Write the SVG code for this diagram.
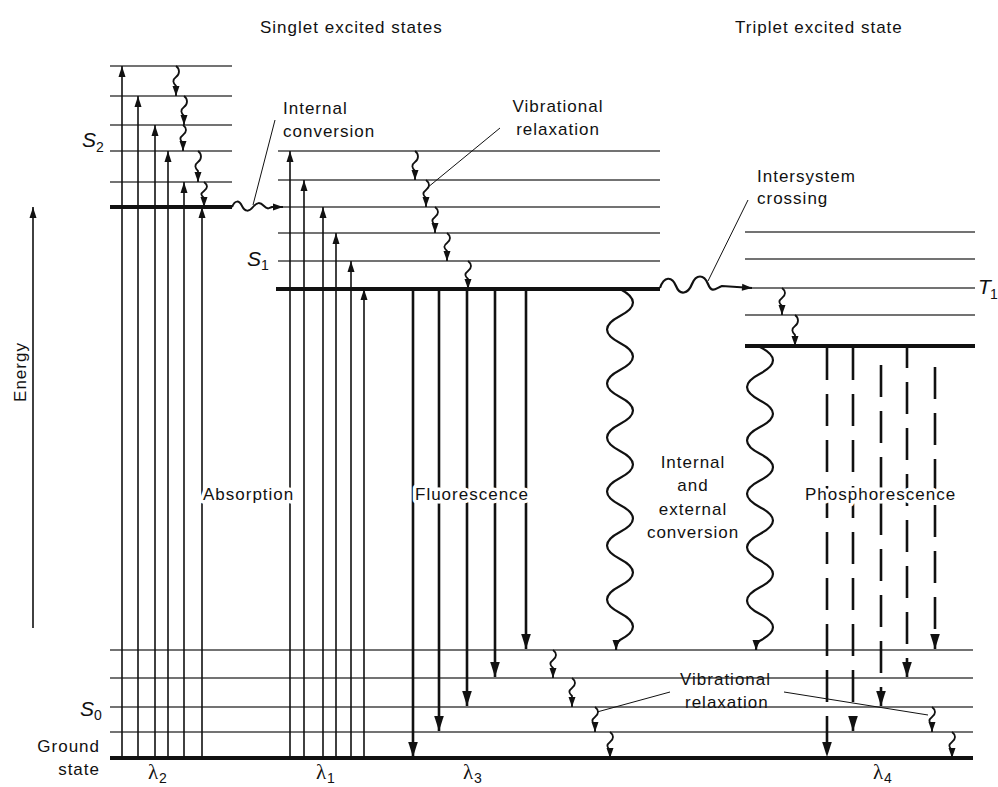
<svg xmlns="http://www.w3.org/2000/svg" width="998" height="787" viewBox="0 0 998 787">
<defs>
<marker id="ah" viewBox="-12 -5 13 10" refX="0" refY="0" markerWidth="13" markerHeight="10" markerUnits="userSpaceOnUse" orient="auto"><path d="M0,0 L-11,-3.5 L-11,3.5 Z" fill="#111"/></marker>
<marker id="ahb" viewBox="-16 -6 17 12" refX="0" refY="0" markerWidth="17" markerHeight="12" markerUnits="userSpaceOnUse" orient="auto"><path d="M0,0 L-15,-4.8 L-15,4.8 Z" fill="#111"/></marker>
<marker id="ahs" viewBox="-11 -5 12 10" refX="0" refY="0" markerWidth="12" markerHeight="10" markerUnits="userSpaceOnUse" orient="auto"><path d="M0,0 L-10,-3.5 L-10,3.5 Z" fill="#111"/></marker>
</defs>
<style>
.lv{stroke:#444;stroke-width:1.3;fill:none}
.th{stroke:#111;stroke-width:4;fill:none}
.ab{stroke:#111;stroke-width:1.6;fill:none;marker-end:url(#ah)}
.fl{stroke:#111;stroke-width:2.6;fill:none;marker-end:url(#ahb)}
.ph{stroke:#111;stroke-width:2.6;fill:none;stroke-dasharray:32 14;marker-end:url(#ahb)}
.wv{stroke:#111;stroke-width:2.2;fill:none;marker-end:url(#ahs)}
.sq{stroke:#111;stroke-width:1.8;fill:none;marker-end:url(#ahs)}
.ld{stroke:#111;stroke-width:1}
text{font-family:"Liberation Sans",Arial,sans-serif;font-size:17px;letter-spacing:1px;fill:#111}
.hl{stroke:#fff;stroke-width:7;paint-order:stroke;stroke-linejoin:round}
.st{font-size:21px;font-style:italic;letter-spacing:0}
.sb{font-size:14px;letter-spacing:0}
.lam{font-family:"Liberation Serif","DejaVu Serif",serif;font-size:21px;letter-spacing:0}
</style>
<rect width="998" height="787" fill="#fff"/>

<text x="260" y="33">Singlet excited states</text>
<text x="735" y="33">Triplet excited state</text>

<g id="energy-axis">
<line class="ab" x1="33" y1="628" x2="33" y2="207"/>
<text transform="translate(26,372) rotate(-90)" text-anchor="middle">Energy</text>
</g>

<g id="S2">
<line class="lv" x1="110" y1="66" x2="232" y2="66"/>
<line class="lv" x1="110" y1="96" x2="232" y2="96"/>
<line class="lv" x1="110" y1="125" x2="232" y2="125"/>
<line class="lv" x1="110" y1="151" x2="232" y2="151"/>
<line class="lv" x1="110" y1="182" x2="232" y2="182"/>
<line class="th" x1="110" y1="207" x2="232" y2="207"/>
<text class="st" x="82" y="147">S</text><text class="sb" x="96" y="152">2</text>
</g>

<g id="S1">
<line class="lv" x1="278" y1="151" x2="660" y2="151"/>
<line class="lv" x1="278" y1="180" x2="660" y2="180"/>
<line class="lv" x1="278" y1="207" x2="660" y2="207"/>
<line class="lv" x1="278" y1="233" x2="660" y2="233"/>
<line class="lv" x1="278" y1="261" x2="660" y2="261"/>
<line class="th" x1="276" y1="289" x2="660" y2="289"/>
<text class="st" x="247" y="266">S</text><text class="sb" x="261" y="270">1</text>
</g>

<g id="T1">
<line class="lv" x1="745" y1="232" x2="975" y2="232"/>
<line class="lv" x1="745" y1="259" x2="975" y2="259"/>
<line class="lv" x1="745" y1="288" x2="975" y2="288"/>
<line class="lv" x1="745" y1="315" x2="975" y2="315"/>
<line class="th" x1="745" y1="346" x2="975" y2="346"/>
<text class="st" x="978" y="294">T</text><text class="sb" x="990" y="299">1</text>
</g>

<g id="S0">
<line class="lv" x1="110" y1="650" x2="973" y2="650"/>
<line class="lv" x1="110" y1="678" x2="973" y2="678"/>
<line class="lv" x1="110" y1="707" x2="973" y2="707"/>
<line class="lv" x1="110" y1="732" x2="973" y2="732"/>
<line class="th" x1="110" y1="758" x2="973" y2="758"/>
<text class="st" x="80" y="716">S</text><text class="sb" x="94" y="720">0</text>
<text x="100" y="752" text-anchor="end">Ground</text>
<text x="100" y="775" text-anchor="end">state</text>
</g>

<g id="connectors">
<line class="ab" x1="122" y1="758" x2="122" y2="66"/>
<line class="ab" x1="138" y1="758" x2="138" y2="96"/>
<line class="ab" x1="155" y1="758" x2="155" y2="125"/>
<line class="ab" x1="168" y1="758" x2="168" y2="151"/>
<line class="ab" x1="184" y1="758" x2="184" y2="182"/>
<line class="ab" x1="202" y1="758" x2="202" y2="207"/>
<line class="ab" x1="290" y1="758" x2="290" y2="151"/>
<line class="ab" x1="304" y1="758" x2="304" y2="180"/>
<line class="ab" x1="323" y1="758" x2="323" y2="207"/>
<line class="ab" x1="336" y1="758" x2="336" y2="233"/>
<line class="ab" x1="351" y1="758" x2="351" y2="261"/>
<line class="ab" x1="364" y1="758" x2="364" y2="289"/>
<line class="fl" x1="413" y1="289" x2="413" y2="757"/>
<line class="fl" x1="439" y1="289" x2="439" y2="731"/>
<line class="fl" x1="467" y1="289" x2="467" y2="706"/>
<line class="fl" x1="495" y1="289" x2="495" y2="677"/>
<line class="fl" x1="526" y1="289" x2="526" y2="649"/>
<line class="ph" x1="827" y1="348" x2="827" y2="757"/>
<line class="ph" x1="853" y1="348" x2="853" y2="731"/>
<line class="ph" x1="881" y1="365" x2="881" y2="706"/>
<line class="ph" x1="907" y1="348" x2="907" y2="677" stroke-dashoffset="12"/>
<line class="ph" x1="935" y1="367" x2="935" y2="649"/>
<path class="sq" d="M176,66 c4,3 4,8 0,11 s-3,6 0,9 L176,96"/>
<path class="sq" d="M184,96 c4,3 4,8 0,11 s-3,6 0,9 L184,125"/>
<path class="sq" d="M183,125 c4,3 4,7 0,10 s-3,5 0,8 L183,151"/>
<path class="sq" d="M198,151 c4,3 4,8 0,11 s-3,6 0,9 L198,182"/>
<path class="sq" d="M204,182 c4,3 4,6 0,9 s-3,4 0,7 L204,207"/>
<path class="sq" d="M415,151 c4,3 4,8 0,11 s-3,6 0,9 L415,180"/>
<path class="sq" d="M426,180 c4,3 4,7 0,10 s-3,5 0,8 L426,207"/>
<path class="sq" d="M435,207 c4,3 4,7 0,10 s-3,5 0,8 L435,233"/>
<path class="sq" d="M447,233 c4,3 4,7 0,10 s-3,5 0,8 L447,261"/>
<path class="sq" d="M468,261 c4,3 4,7 0,10 s-3,5 0,8 L468,289"/>
<path class="sq" d="M782,288 c4,3 4,7 0,10 s-3,5 0,8 L782,315"/>
<path class="sq" d="M795,315 c4,3 4,8 0,11 s-3,6 0,9 L795,346"/>
<path class="sq" d="M553,650 c4,3 4,7 0,10 s-3,5 0,8 L553,678"/>
<path class="sq" d="M572,678 c4,3 4,7 0,10 s-3,5 0,8 L572,707"/>
<path class="sq" d="M595,707 c4,3 4,7 0,10 s-3,5 0,8 L595,732"/>
<path class="sq" d="M610,732 c4,3 4,7 0,10 s-3,5 0,8 L610,758"/>
<path class="sq" d="M932,707 c4,3 4,7 0,10 s-3,5 0,8 L932,732"/>
<path class="sq" d="M952,732 c4,3 4,7 0,10 s-3,5 0,8 L952,758"/>
<path class="wv" style="stroke-width:2" d="M232,207 c3,-7 7,-7 10,-1 s7,6 11,1 s7,-5 11,-1 s5,2 8,1 L283,207"/>
<path class="wv" d="M660,288 c4,-12 12,-12 16,-2 s12,8 16,-2 s12,-10 16,0 s8,4 14,2 L752,288"/>
<path class="wv" d="M620,289 c17.3,9 17.3,18 0,27 s-17.3,18 0,27 s17.3,18 0,27 s-17.3,18 0,27 s17.3,18 0,27 s-17.3,18 0,27 s17.3,18 0,27 s-17.3,18 0,27 s17.3,18 0,27 s-17.3,18 0,27 s17.3,18 0,27 s-17.3,18 0,27 s17.3,18 0,27 q-4,3 -4,10"/>
<path class="wv" d="M760,347 c17.3,9 17.3,17.7 0,26.7 s-17.3,17.7 0,26.7 s17.3,17.7 0,26.7 s-17.3,17.7 0,26.7 s17.3,17.7 0,26.7 s-17.3,17.7 0,26.7 s17.3,17.7 0,26.7 s-17.3,17.7 0,26.7 s17.3,17.7 0,26.7 s-17.3,17.7 0,26.7 s17.3,17.7 0,26.7 q-4,3 -4,9.3"/>
<line class="ld" x1="275" y1="120" x2="253" y2="205"/>
<line class="ld" x1="500" y1="128" x2="427" y2="188"/>
<line class="ld" x1="748" y1="200" x2="708" y2="281"/>
<line class="ld" x1="597" y1="712" x2="670" y2="692"/>
<line class="ld" x1="784" y1="692" x2="928" y2="715"/>
</g>

<g id="labels">
<text x="283" y="114">Internal</text>
<text x="283" y="137">conversion</text>
<text x="558" y="112" text-anchor="middle">Vibrational</text>
<text x="558" y="135" text-anchor="middle">relaxation</text>
<text x="757" y="182">Intersystem</text>
<text x="757" y="204">crossing</text>
<text class="hl" x="203" y="500">Absorption</text>
<text class="hl" x="415" y="500">Fluorescence</text>
<text class="hl" x="805" y="500">Phosphorescence</text>
<text x="693" y="468" text-anchor="middle">Internal</text>
<text x="693" y="491" text-anchor="middle">and</text>
<text x="693" y="515" text-anchor="middle">external</text>
<text x="693" y="538" text-anchor="middle">conversion</text>
<text x="680" y="685">Vibrational</text>
<text x="685" y="708">relaxation</text>
<text class="lam" x="148" y="779">λ</text><text class="sb" x="159" y="783">2</text>
<text class="lam" x="316" y="779">λ</text><text class="sb" x="327" y="783">1</text>
<text class="lam" x="463" y="779">λ</text><text class="sb" x="474" y="783">3</text>
<text class="lam" x="873" y="779">λ</text><text class="sb" x="884" y="783">4</text>
</g>
</svg>
